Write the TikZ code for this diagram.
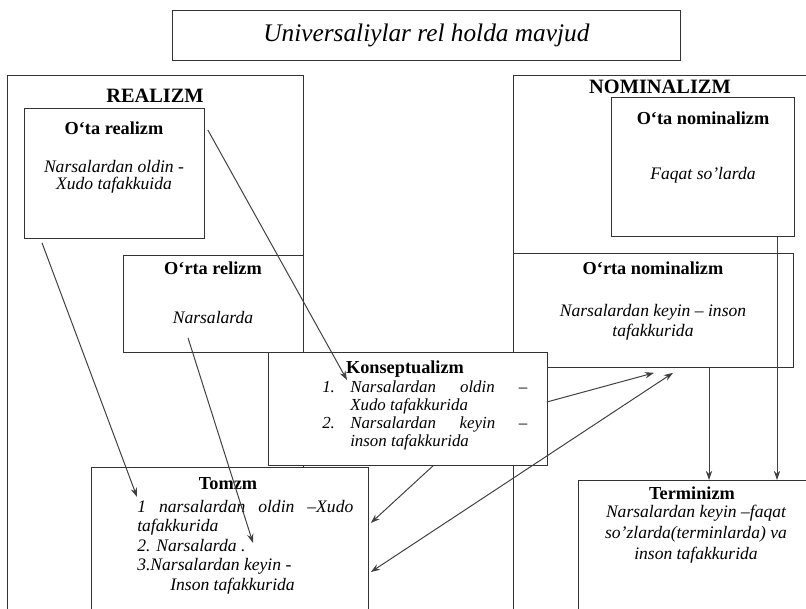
\documentclass[tikz,border=0pt]{standalone}
\usepackage{fontspec}
\setmainfont{Liberation Serif}
\usetikzlibrary{arrows.meta, calc}

\tikzset{
  box/.style={draw=black!80, fill=white, line width=0.6pt, inner sep=0pt, anchor=north west},
  wh/.style 2 args={minimum width=#1*0.025cm, minimum height=#2*0.025cm},
  hd/.style={font=\fontsize{13}{15}\selectfont\bfseries, inner sep=0pt},
  txt/.style={font=\fontsize{12.5}{14}\selectfont\itshape, align=center, inner sep=0pt},
  link/.style={line width=0.7pt, draw=black!75}
}

\begin{document}
\begin{tikzpicture}[x=0.025cm, y=-0.025cm, >={Stealth[length=6.5pt, width=4.5pt]}]
  \useasboundingbox (0,0) rectangle (806,609);
  \clip (0,0) rectangle (806,609);

  \node[box, wh={508}{50}, font=\fontsize{18}{20}\selectfont\itshape] (title) at (172,10) {Universaliylar rel holda mavjud};

  % two big frames, the other boxes are laid over them
  \node[box, wh={296}{600}] (realizm) at (7,75) {};
  \node[box, wh={320}{600}] (nominal) at (513,75) {};
  \node[hd, font=\fontsize{14.5}{16}\selectfont\bfseries] (realizmlbl) at (155,96) {REALIZM};
  \node[hd, font=\fontsize{14.5}{16}\selectfont\bfseries] (nominallbl) at (660,87) {NOMINALIZM};

  \node[box, wh={180}{130}] (otareal) at (24,108) {};
  \node[hd] (otarealhd) at (114,128) {O‘ta realizm};
  \node[txt, font=\fontsize{12.5}{12}\selectfont\itshape] (otarealtx) at (114,177) {Narsalardan oldin -\\Xudo tafakkuida};

  \node[box, wh={180}{97}] (ortareal) at (123,255) {};
  \node[hd] (ortarealhd) at (213,268) {O‘rta relizm};
  \node[txt] (ortarealtx) at (213,317) {Narsalarda};

  \node[box, wh={183}{139}] (otanom) at (611,97) {};
  \node[hd] (otanomhd) at (703,118) {O‘ta nominalizm};
  \node[txt] (otanomtx) at (703,175) {Faqat so’larda};

  \node[box, wh={280}{114}] (ortanom) at (513,253) {};
  \node[hd] (ortanomhd) at (653,268) {O‘rta nominalizm};
  \node[txt, font=\fontsize{12.5}{14.2}\selectfont\itshape] (ortanomtx) at (653,322) {Narsalardan keyin -- inson\\tafakkurida};

  \node[box, wh={279}{113}] (konsept) at (268,352) {};
  \node[hd] (konsepthd) at (405,369) {Konseptualizm};
  \node[txt, align=left, anchor=west, font=\fontsize{12}{12.8}\selectfont\itshape] (konsepttx) at (322,415)
    {\makebox[0.7cm][l]{1.}\makebox[4.425cm][s]{Narsalardan oldin --}\\
     \hspace*{0.7cm}Xudo tafakkurida\\
     \makebox[0.7cm][l]{2.}\makebox[4.425cm][s]{Narsalardan keyin --}\\
     \hspace*{0.7cm}inson tafakkurida};

  \node[box, wh={277}{170}] (tomzm) at (91,467) {};
  \node[hd] (tomzmhd) at (228,484) {Tomzm};
  \node[txt, align=left, anchor=west, font=\fontsize{12.5}{13.9}\selectfont\itshape] (tomzmtx) at (137,547)
    {\makebox[5.4cm][s]{1 narsalardan oldin --Xudo}\\
     tafakkurida\\
     2. Narsalarda .\\
     3.Narsalardan keyin -\\
     \hspace*{0.825cm}Inson tafakkurida};

  \node[box, wh={240}{160}] (termin) at (578,480) {};
  \node[hd] (terminhd) at (692,493) {Terminizm};
  \node[txt, font=\fontsize{12.5}{15}\selectfont\itshape] (termintx) at (696,534)
    {Narsalardan keyin --faqat\\so’zlarda(terminlarda) va\\inson tafakkurida};

  % connectors
  \draw[link, ->] ($(otareal.north east)+(3,22)$) -- ($(konsept.north west)+(79,28)$);
  \draw[link, ->] ($(otareal.south west)+(18,4)$) -- ($(tomzm.north west)+(46,30)$);
  \draw[link, ->] ($(ortareal.south west)+(65,-15)$) -- ($(tomzm.north west)+(162,76)$);
  \draw[link, ->] ($(konsept.north east)+(-1,50)$) -- ($(ortanom.south west)+(141,5)$);
  \draw[link, <->] ($(tomzm.north east)+(2,105)$) -- ($(ortanom.south west)+(160,5)$);
  \draw[link, ->] ($(konsept.south west)+(165,0)$) -- ($(tomzm.north east)+(2,56)$);
  \draw[link, ->] ($(ortanom.south west)+(196,0)$) -- ($(termin.north west)+(131,0)$);
  \draw[link, ->] ($(otanom.south west)+(166,0)$) -- ($(termin.north west)+(199,0)$);
\end{tikzpicture}
\end{document}
